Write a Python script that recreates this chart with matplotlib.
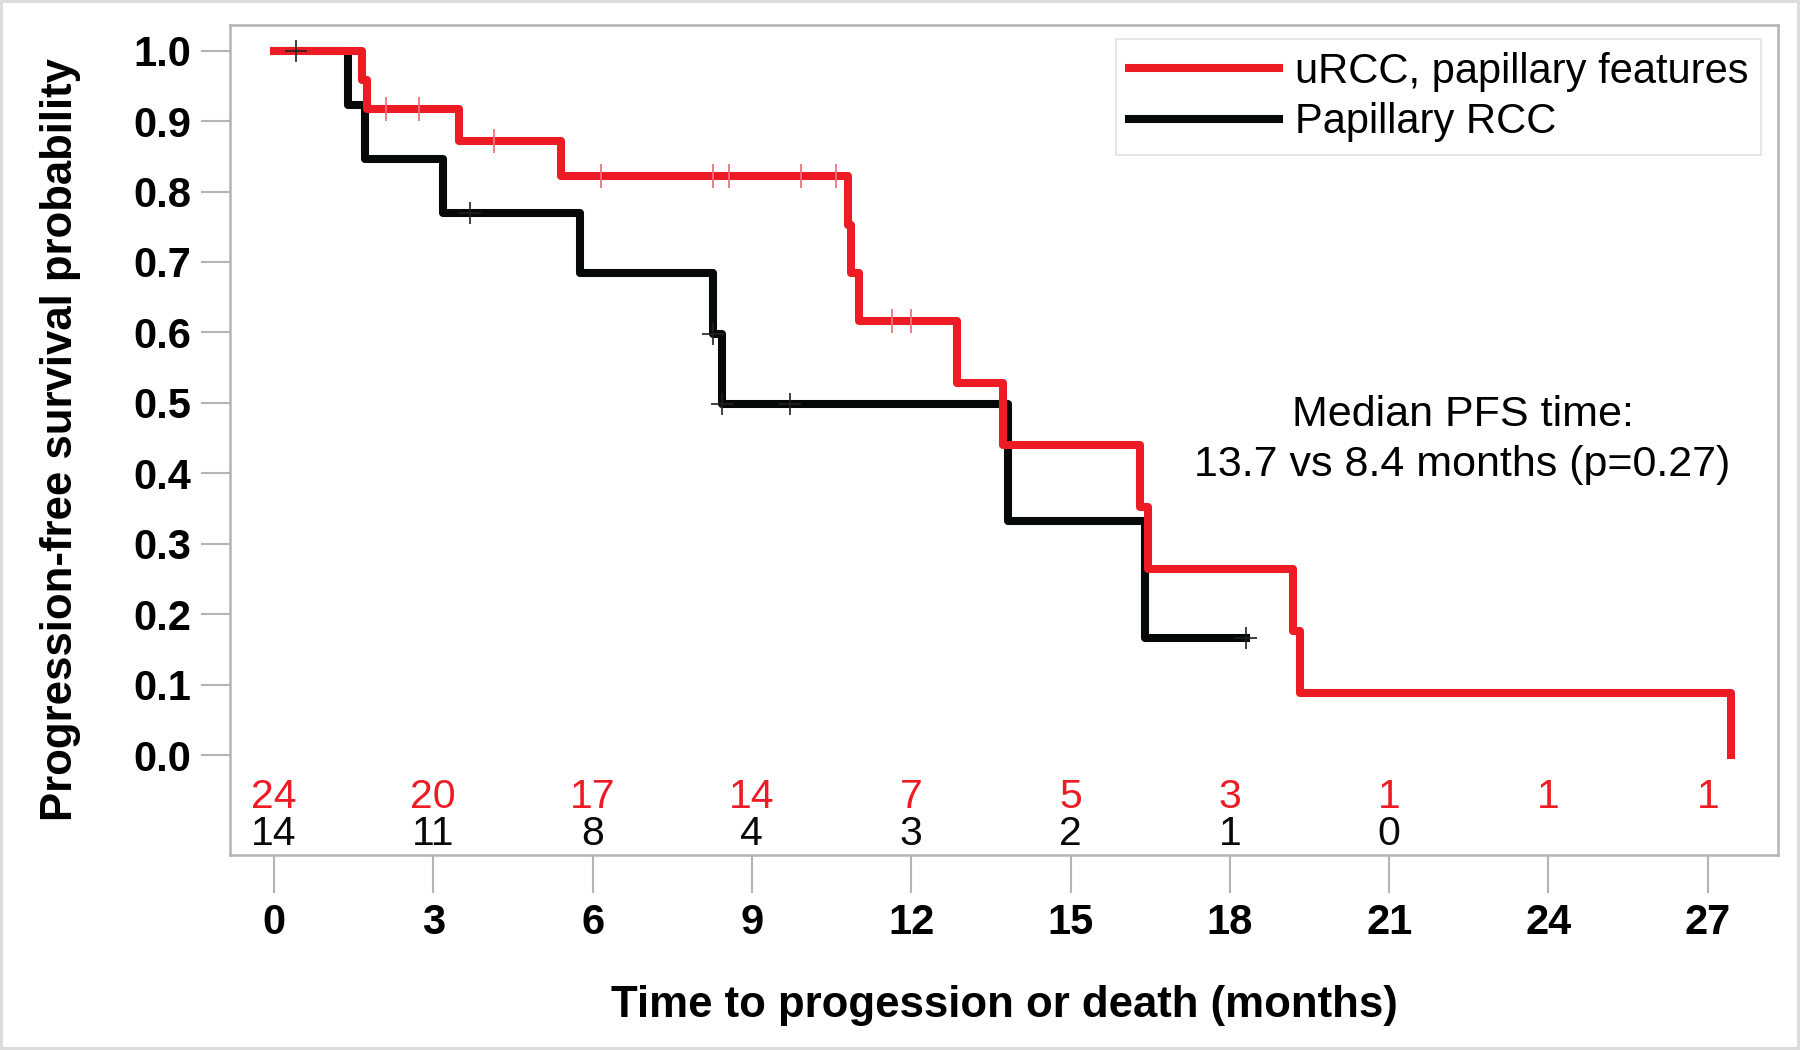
import numpy as np
import matplotlib.pyplot as plt

plt.rcParams['font.family'] = ['Liberation Sans', 'DejaVu Sans']

# Kaplan-Meier steps (months, survival)
red_t = [0, 1.66, 1.76, 3.49, 5.41, 10.81, 10.87, 11.01, 12.87, 13.73, 16.30, 16.46, 19.19, 19.33, 27.43]
red_s = [1.0, 0.958, 0.917, 0.871, 0.822, 0.753, 0.685, 0.616, 0.528, 0.440, 0.352, 0.264, 0.176, 0.088, 0.0]
red_cens = [2.11, 2.74, 4.15, 6.16, 8.27, 8.57, 9.92, 10.58, 11.63, 11.99]

black_t = [0, 1.39, 1.72, 3.19, 5.77, 8.27, 8.44, 13.83, 16.40, 18.31]
black_s = [1.0, 0.923, 0.846, 0.769, 0.684, 0.598, 0.498, 0.332, 0.166, 0.166]
black_cens = [0.41, 3.70, 8.27, 8.44, 9.72, 18.31]

# numbers at risk
risk_t = [0, 3, 6, 9, 12, 15, 18, 21, 24, 27]
red_risk = [24, 20, 17, 14, 7, 5, 3, 1, 1, 1]
black_risk = [14, 11, 8, 4, 3, 2, 1, 0]

red_name = 'uRCC, papillary features'
black_name = 'Papillary RCC'

RED = '#ed1c24'
BLACK = '#05090a'
GRAY = '#b4b4b4'


def level_at(ts, ss, t):
    i = np.searchsorted(ts, t, side='right') - 1
    return ss[i]


fig = plt.figure(figsize=(18, 10.5), dpi=100)
fig.patch.set_edgecolor('#dcdcdc')
fig.patch.set_linewidth(3)
ax = fig.add_axes([0.128, 0.186, 0.86, 0.79])

ax.step(black_t, black_s, where='post', color=BLACK, lw=5.8, label=black_name, zorder=3)
ax.step(red_t, red_s, where='post', color=RED, lw=5.8, label=red_name, zorder=4)

ax.plot(red_cens, [level_at(red_t, red_s, t) for t in red_cens], ls='none',
        marker='|', ms=17, mew=1.3, color='#f2737a', zorder=5)
ax.plot(black_cens, [level_at(black_t, black_s, t) for t in black_cens], ls='none',
        marker='+', ms=16, mew=1.2, color='#202020', zorder=5)

for t, n in zip(risk_t, red_risk):
    ax.text(t, -0.059, str(n), color=RED, fontsize=29.5, ha='center', va='center')
for t, n in zip(risk_t, black_risk):
    ax.text(t, -0.112, str(n), color=BLACK, fontsize=29.5, ha='center', va='center')

ax.text(0.796, 0.5, 'Median PFS time:\n13.7 vs 8.4 months (p=0.27)', transform=ax.transAxes,
        fontsize=31, ha='center', va='center', linespacing=1.35)

ax.set_xlim(-0.82, 28.33)
ax.set_ylim(-0.141, 1.036)
ax.set_xticks(risk_t)
ax.set_yticks(np.round(np.arange(0, 1.01, 0.1), 1))
ax.set_yticklabels([f'{v:.1f}' for v in np.arange(0, 1.01, 0.1)])

for s in ax.spines.values():
    s.set_color(GRAY)
    s.set_linewidth(1.8)
ax.tick_params(axis='both', colors=GRAY, width=1.5, labelcolor='black', labelsize=30)
ax.tick_params(axis='x', length=27, pad=8)
ax.tick_params(axis='y', length=21, pad=7)
for lab in ax.get_xticklabels() + ax.get_yticklabels():
    lab.set_fontweight('bold')

ax.set_xlabel('Time to progession or death (months)', fontsize=31.5, fontweight='bold', labelpad=30)
ax.set_ylabel('Progression-free survival probability', fontsize=31.5, fontweight='bold', labelpad=38)

handles, labels = ax.get_legend_handles_labels()
leg = ax.legend(handles[::-1], labels[::-1], loc='upper right', bbox_to_anchor=(0.989, 0.983),
                borderaxespad=0, fontsize=30, handlelength=3.6, handletextpad=0.4,
                borderpad=0.3, labelspacing=0.25, fancybox=False, framealpha=1)
leg.get_frame().set_edgecolor('#e2e2e2')
leg.get_frame().set_linewidth(1.2)

fig.savefig('out.png', dpi=100)
